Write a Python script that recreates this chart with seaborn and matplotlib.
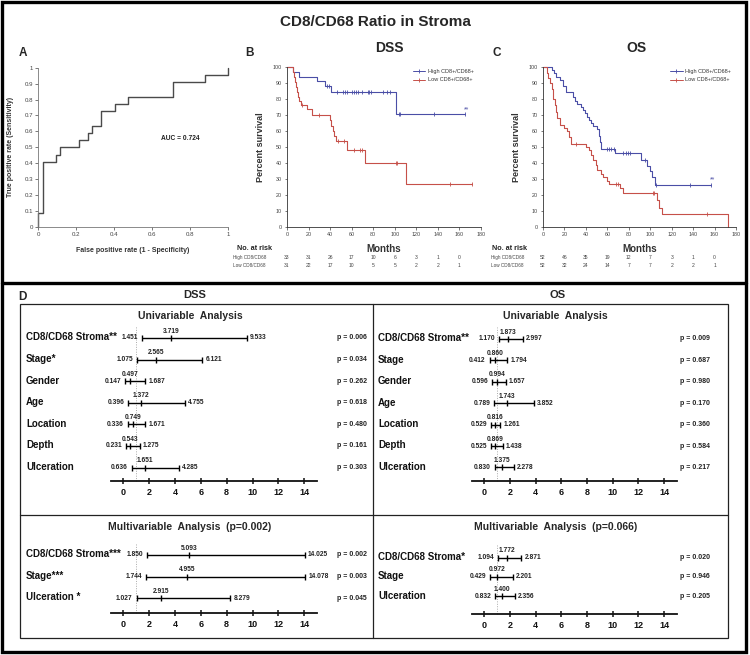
import numpy as np
import matplotlib
matplotlib.use("Agg")
import matplotlib.pyplot as plt
import matplotlib.transforms as mtrans
from matplotlib.patches import Rectangle
from matplotlib.lines import Line2D
import seaborn as sns

# ---------------- DATA ----------------
title_main = "CD8/CD68 Ratio in Stroma"

# Panel A: ROC curve (corners of the step curve)
roc_fpr = [0, 0, 0.025, 0.096, 0.117, 0.217, 0.261, 0.284, 0.334, 0.406, 0.475, 0.713, 0.881, 1.0]
roc_tpr = [0, 0.091, 0.409, 0.455, 0.500, 0.545, 0.591, 0.636, 0.727, 0.773, 0.818, 0.909, 0.955, 1.0]
roc_xticks = [0, 0.2, 0.4, 0.6, 0.8, 1]
roc_yticks = [0, 0.1, 0.2, 0.3, 0.4, 0.5, 0.6, 0.7, 0.8, 0.9, 1]
auc_label = "AUC = 0.724"

# Panel B: DSS Kaplan-Meier
dss_high_t = [0, 6, 11, 28, 35, 41, 101, 165]
dss_high_s = [100, 97, 94, 91, 88, 84.5, 70.5, 70.5]
dss_high_cens = [37, 39, 46.5, 52, 54, 56, 60, 62.5, 64, 66, 69.5, 75, 76.5, 78, 89.5, 93, 96, 103.5, 105, 136, 165]
dss_low_t = [0, 5.5, 6.5, 7.5, 8.5, 9.5, 10.5, 11.5, 13, 18.5, 23, 39.5, 41, 42.5, 44, 45.5, 56, 72, 110.5, 172]
dss_low_s = [100, 97, 94, 90.5, 87.5, 84.5, 81.5, 79, 76.5, 73.5, 70, 66.7, 63.4, 60, 57, 53.6, 48, 40, 26.8, 26.8]
dss_low_cens = [13.5, 30, 47, 52.5, 62.5, 68, 70, 101, 102, 151.5, 172]
dss_risk_high = [33, 31, 26, 17, 10, 6, 3, 1, 0]
dss_risk_low = [31, 22, 17, 10, 5, 5, 2, 2, 1]

# Panel C: OS Kaplan-Meier
os_high_t = [0, 8, 10, 12, 16, 19, 21, 28, 30, 32, 35, 37, 39, 41, 43, 45, 47, 50, 52, 53, 54.5,
             67.5, 91, 97, 99.5, 102, 104.5, 157]
os_high_s = [100, 98, 96, 94, 92, 88, 84.5, 81, 79, 77, 75, 73, 71, 69, 67, 65, 63, 61, 57, 53, 49,
             46, 42, 38, 35, 31, 26, 26]
os_high_cens = [60, 62, 63.5, 66, 75, 77.5, 79, 81, 95.5, 105.5, 137.5, 157]
os_low_t = [0, 3.7, 5, 6.5, 8, 9.5, 11, 12, 13, 15.5, 20, 22, 24, 26, 40.5, 43, 45, 47, 49, 50,
            54, 56, 60, 62, 72, 74.5, 106, 108, 111, 173]
os_low_s = [100, 96, 93, 90, 86, 80, 76, 72, 68, 64, 62, 60, 56, 52, 50, 48, 45, 42, 39, 35.5,
            33, 31, 29, 27, 24.5, 21, 17, 12, 8, 0]
os_low_cens = [31, 68, 70, 102.5, 103.5, 153]
os_risk_high = [52, 46, 35, 19, 12, 7, 3, 1, 0]
os_risk_low = [52, 32, 24, 14, 7, 7, 2, 2, 1]

months_ticks = [0, 20, 40, 60, 80, 100, 120, 140, 160, 180]
surv_ticks = [0, 10, 20, 30, 40, 50, 60, 70, 80, 90, 100]
risk_times = [0, 20, 40, 60, 80, 100, 120, 140, 160]
legend_labels = ["High CD8+/CD68+", "Low CD8+/CD68+"]
risk_row_labels = ["High CD8/CD68", "Low CD8/CD68"]

# Panel D: forest plots
dss_uni_labels = ["CD8/CD68 Stroma**", "Stage*", "Gender", "Age", "Location", "Depth", "Ulceration"]
dss_uni_hr = [3.719, 2.565, 0.497, 1.372, 0.749, 0.543, 1.651]
dss_uni_lo = [1.451, 1.075, 0.147, 0.396, 0.336, 0.231, 0.636]
dss_uni_hi = [9.533, 6.121, 1.687, 4.755, 1.671, 1.275, 4.285]
dss_uni_p = ["0.006", "0.034", "0.262", "0.618", "0.480", "0.161", "0.303"]

os_uni_labels = ["CD8/CD68 Stroma**", "Stage", "Gender", "Age", "Location", "Depth", "Ulceration"]
os_uni_hr = [1.873, 0.860, 0.994, 1.743, 0.816, 0.869, 1.375]
os_uni_lo = [1.170, 0.412, 0.596, 0.789, 0.529, 0.525, 0.830]
os_uni_hi = [2.997, 1.794, 1.657, 3.852, 1.261, 1.438, 2.278]
os_uni_p = ["0.009", "0.687", "0.980", "0.170", "0.360", "0.584", "0.217"]

dss_multi_labels = ["CD8/CD68 Stroma***", "Stage***", "Ulceration *"]
dss_multi_hr = [5.093, 4.955, 2.915]
dss_multi_lo = [1.850, 1.744, 1.027]
dss_multi_hi = [14.025, 14.078, 8.279]
dss_multi_p = ["0.002", "0.003", "0.045"]

os_multi_labels = ["CD8/CD68 Stroma*", "Stage", "Ulceration"]
os_multi_hr = [1.772, 0.972, 1.400]
os_multi_lo = [1.094, 0.429, 0.832]
os_multi_hi = [2.871, 2.201, 2.356]
os_multi_p = ["0.020", "0.946", "0.205"]

forest_ticks = [0, 2, 4, 6, 8, 10, 12, 14]

# ---------------- STYLE ----------------
sns.set_theme(style="ticks")
plt.rcParams['font.family'] = ['Liberation Sans', 'DejaVu Sans']

W, H = 750, 655
fig = plt.figure(figsize=(7.5, 6.55), dpi=100)
fig.patch.set_facecolor("white")

BLUE = "#4a4ea6"
RED = "#c65049"


def rect(l, t, r, b):
    return [l / W, 1 - b / H, (r - l) / W, (b - t) / H]


def fx(x):
    return x / W


def fy(y):
    return 1 - y / H


def ftext(x, y, s, **kw):
    fig.text(fx(x), fy(y), s, **kw)


# ---------------- FRAMES ----------------
fig.add_artist(Rectangle((fx(2), fy(652)), (746 - 2) / W, (652 - 2) / H, transform=fig.transFigure,
                         fill=False, lw=2.4, ec="black"))
fig.add_artist(Line2D([fx(2), fx(746)], [fy(283), fy(283)], transform=fig.transFigure, lw=2.4, color="black"))
fig.add_artist(Rectangle((fx(19.5), fy(638)), (728 - 19.5) / W, (638 - 304) / H, transform=fig.transFigure,
                         fill=False, lw=0.9, ec="#222"))
fig.add_artist(Line2D([fx(372.5), fx(372.5)], [fy(304), fy(638)], transform=fig.transFigure, lw=0.9, color="#222"))
fig.add_artist(Line2D([fx(19.5), fx(728)], [fy(515), fy(515)], transform=fig.transFigure, lw=0.9, color="#222"))

ftext(375, 22, title_main, ha="center", va="center", fontsize=11, fontweight="bold")
ftext(23, 53, "A", ha="center", va="center", fontsize=8.5, fontweight="bold")
ftext(249, 53, "B", ha="center", va="center", fontsize=8.5, fontweight="bold")
ftext(497, 53, "C", ha="center", va="center", fontsize=8.5, fontweight="bold")
ftext(389, 48, "DSS", ha="center", va="center", fontsize=10, fontweight="bold")
ftext(636, 48, "OS", ha="center", va="center", fontsize=10, fontweight="bold")

# ---------------- PANEL A ----------------
axA = fig.add_axes(rect(38, 67.7, 228, 227))
sns.lineplot(x=roc_fpr, y=roc_tpr, ax=axA, drawstyle="steps-post", color="#4a4a4a", lw=1.0,
             estimator=None, sort=False, legend=False)
for ln in axA.lines:
    ln.set_clip_on(False)
axA.set_xlim(0, 1)
axA.set_ylim(0, 1)
axA.set_xticks(roc_xticks)
axA.set_xticklabels([f"{v:g}" for v in roc_xticks])
axA.set_yticks(roc_yticks)
axA.set_yticklabels([f"{v:g}" for v in roc_yticks])
axA.tick_params(labelsize=4.4, length=2, width=0.5, pad=1.5, colors="#444")
for sp in ["top", "right"]:
    axA.spines[sp].set_visible(False)
for sp in ["left", "bottom"]:
    axA.spines[sp].set_color("#777")
    axA.spines[sp].set_linewidth(0.6)
axA.set_xlabel("False positive rate (1 - Specificity)", fontsize=5, fontweight="bold", color="#333")
axA.set_ylabel("True positive rate (Sensitivity)", fontsize=5, fontweight="bold", color="#333")
axA.xaxis.set_label_coords(0.5, -0.125)
axA.yaxis.set_label_coords(-0.125, 0.5)
axA.text(0.75, 0.556, auc_label, fontsize=4.8, fontweight="bold", ha="center", va="center", color="#222")


# ---------------- KM PANELS ----------------
def step_at(t, s, c):
    t = np.asarray(t)
    s = np.asarray(s)
    idx = np.searchsorted(t, c, side="right") - 1
    return s[np.clip(idx, 0, len(s) - 1)]


def km_panel(l, r, ht, hs, hc, lt, ls_, lc, risk_h, risk_l, star_xy, leg_x,
             risk_label_x, noat_x):
    ax = fig.add_axes(rect(l, 67, r, 227))
    for t, s, c, col in [(ht, hs, hc, BLUE), (lt, ls_, lc, RED)]:
        sns.lineplot(x=t, y=s, ax=ax, drawstyle="steps-post", color=col, lw=0.8,
                     estimator=None, sort=False, legend=False)
        cens = np.asarray(c, dtype=float)
        sns.scatterplot(x=cens, y=step_at(t, s, cens), ax=ax, marker="|", s=7,
                        color=col, edgecolor=col, linewidth=0.6, legend=False, zorder=3)
    for ln in ax.lines:
        ln.set_clip_on(False)
    for coll in ax.collections:
        coll.set_clip_on(False)
    ax.set_xlim(0, 180)
    ax.set_ylim(0, 100)
    ax.set_xticks(months_ticks)
    ax.set_yticks(surv_ticks)
    ax.tick_params(labelsize=3.9, length=1.8, width=0.5, pad=1.8, colors="#444")
    for sp in ["top", "right"]:
        ax.spines[sp].set_visible(False)
    for sp in ["left", "bottom"]:
        ax.spines[sp].set_color("#333")
        ax.spines[sp].set_linewidth(0.6)
    ax.set_xlabel("Months", fontsize=7, fontweight="bold", color="#333")
    ax.set_ylabel("Percent survival", fontsize=6.5, fontweight="bold", color="#333")
    ax.xaxis.set_label_coords(0.5, -0.107)
    ax.yaxis.set_label_coords(-0.112, 0.5)
    ax.text(star_xy[0], star_xy[1], "**", fontsize=5, color=BLUE, ha="center", va="center")
    handles = [Line2D([], [], color=BLUE, lw=0.7, marker="|", ms=2.5, mew=0.6),
               Line2D([], [], color=RED, lw=0.7, marker="|", ms=2.5, mew=0.6)]
    ax.legend(handles, legend_labels, loc="upper left", bbox_to_anchor=(leg_x, 0.985), fontsize=4,
              frameon=False, handlelength=2.2, handletextpad=0.5, borderpad=0, labelspacing=0.55,
              borderaxespad=0, labelcolor="#333")
    # risk table
    blend = mtrans.blended_transform_factory(ax.transData, fig.transFigure)
    ftext(noat_x, 248, "No. at risk", ha="center", va="center", fontsize=5.2, fontweight="bold", color="#222")
    ftext(risk_label_x, 257.7, risk_row_labels[0], ha="left", va="center", fontsize=3.3, color="#444")
    ftext(risk_label_x, 265.7, risk_row_labels[1], ha="left", va="center", fontsize=3.3, color="#444")
    for tt, nh, nl in zip(risk_times, risk_h, risk_l):
        ax.text(tt, fy(257.7), str(nh), transform=blend, ha="center", va="center", fontsize=3.6, color="#444")
        ax.text(tt, fy(265.7), str(nl), transform=blend, ha="center", va="center", fontsize=3.6, color="#444")
    return ax


km_panel(287, 481, dss_high_t, dss_high_s, dss_high_cens, dss_low_t, dss_low_s, dss_low_cens,
         dss_risk_high, dss_risk_low, (167, 73.5), 0.65, 233, 255)
km_panel(543, 736, os_high_t, os_high_s, os_high_cens, os_low_t, os_low_s, os_low_cens,
         os_risk_high, os_risk_low, (158, 29.5), 0.66, 491, 510)


# ---------------- FOREST PANELS ----------------
XL, XR = -0.95, 14.97


def forest(x0_px, unit_px, top, axis_y, row0, spacing, labels, hr, lo, hi, pvals, label_x, p_x):
    l = x0_px + XL * unit_px
    r = x0_px + XR * unit_px
    ax = fig.add_axes(rect(l, top, r, axis_y))
    ax.patch.set_alpha(0)
    n = len(labels)
    y = np.arange(n)
    ax.set_xlim(XL, XR)
    ax.set_ylim((axis_y - row0) / spacing, (top - row0) / spacing)
    ax.axvline(1, ls=(0, (1, 1.5)), color="#aaaaaa", lw=0.7, zorder=0)
    ax.hlines(y, lo, hi, color="black", lw=1.0)
    for vals in (lo, hi, hr):
        sns.scatterplot(x=list(vals), y=y, ax=ax, marker="|", s=22, color="black",
                        edgecolor="black", linewidth=1.0, legend=False, zorder=3)
    for coll in ax.collections:
        coll.set_clip_on(False)
    for a in ax.lines:
        a.set_clip_on(False)
    blend = mtrans.blended_transform_factory(fig.transFigure, ax.transData)
    fs = 4.8
    for i in range(n):
        ax.annotate(f"{hr[i]:.3f}", (hr[i], y[i]), xytext=(0, 5.0), textcoords="offset points",
                    ha="center", va="center", fontsize=fs, fontweight="bold", color="#222")
        ax.annotate(f"{lo[i]:.3f}", (lo[i], y[i]), xytext=(-2.8, 0), textcoords="offset points",
                    ha="right", va="center", fontsize=fs, fontweight="bold", color="#222")
        ax.annotate(f"{hi[i]:.3f}", (hi[i], y[i]), xytext=(2.4, 0), textcoords="offset points",
                    ha="left", va="center", fontsize=fs, fontweight="bold", color="#222")
        ax.text(fx(label_x), y[i] - 0.03, labels[i], transform=blend, ha="left", va="center",
                fontsize=7, fontweight="bold", color="#111")
        ax.text(fx(p_x), y[i], f"p = {pvals[i]}", transform=blend, ha="right", va="center",
                fontsize=5, fontweight="bold", color="#222")
    ax.set_xticks(forest_ticks)
    ax.set_yticks([])
    for sp in ["top", "right", "left"]:
        ax.spines[sp].set_visible(False)
    ax.spines["bottom"].set_linewidth(1.3)
    ax.spines["bottom"].set_color("#111")
    ax.tick_params(axis="x", direction="inout", length=5, width=1.1, labelsize=6.5, pad=2.5,
                   colors="#111")
    for lab in ax.get_xticklabels():
        lab.set_fontweight("bold")
    return ax


forest(123.3, 12.93, 326, 481, 338, 21.6, dss_uni_labels, dss_uni_hr, dss_uni_lo, dss_uni_hi,
       dss_uni_p, 26, 367)
forest(123.3, 12.93, 543, 613, 555, 21.5, dss_multi_labels, dss_multi_hr, dss_multi_lo, dss_multi_hi,
       dss_multi_p, 26, 367)
forest(484.3, 12.84, 327, 481, 339, 21.4, os_uni_labels, os_uni_hr, os_uni_lo, os_uni_hi,
       os_uni_p, 378, 710)
forest(484.3, 12.84, 545, 614, 557.7, 19.2, os_multi_labels, os_multi_hr, os_multi_lo, os_multi_hi,
       os_multi_p, 378, 710)

ftext(22, 297, "D", ha="center", va="center", fontsize=8.5, fontweight="bold")
ftext(195, 295, "DSS", ha="center", va="center", fontsize=8, fontweight="bold")
ftext(558, 295, "OS", ha="center", va="center", fontsize=8, fontweight="bold")
ftext(190, 316, "Univariable  Analysis", ha="center", va="center", fontsize=7.5, fontweight="bold")
ftext(555, 316, "Univariable  Analysis", ha="center", va="center", fontsize=7.5, fontweight="bold")
ftext(190, 527, "Multivariable  Analysis  (p=0.002)", ha="center", va="center", fontsize=7.5, fontweight="bold")
ftext(556, 527, "Multivariable  Analysis  (p=0.066)", ha="center", va="center", fontsize=7.5, fontweight="bold")

fig.savefig("out.png", dpi=100, facecolor="white")
